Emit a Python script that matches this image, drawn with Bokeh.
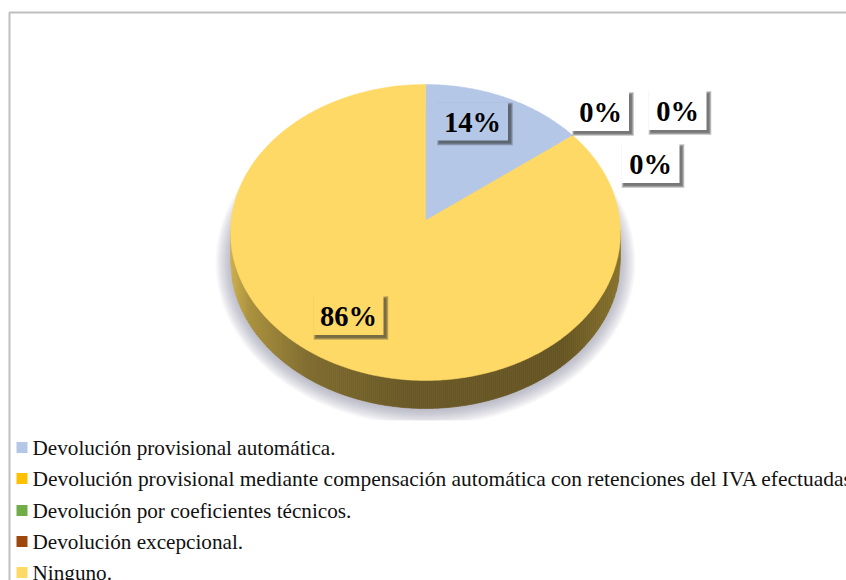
import numpy as np
from bokeh.core.properties import value
from bokeh.embed import file_html
from bokeh.models import Range1d
from bokeh.plotting import figure
from bokeh.resources import INLINE

# Survey answers, in percent
categories = [
    "Devolución provisional automática.",
    "Devolución provisional mediante compensación automática con retenciones del IVA efectuadas",
    "Devolución por coeficientes técnicos.",
    "Devolución excepcional.",
    "Ninguno.",
]
shares = [14, 0, 0, 0, 86]
labels = ["14%", "0%", "0%", "0%", "86%"]
colors = ["#b4c7e7", "#ffc000", "#70ad47", "#9e480e", "#ffd966"]

W, H = 846, 580
SERIF = "Liberation Serif"

# Tilted disc layout, in page pixels
CX, CY, RX, RY = 425.0, 232.0, 195.0, 148.0
APEX_Y = 220.0
DEPTH = 28.0

# Centres of the label boxes, in slice order, and each box's size
label_centres = [(472, 121), (600, 111), (650, 163), (677, 110), (348, 315)]
label_sizes = [(71, 38), (57, 39), (58, 39), (58, 39), (70, 39)]
label_fills = ["#b4c7e7", "#ffffff", "#ffffff", "#ffffff", "#ffd966"]

legend_rows = [447, 478, 510, 541, 572]
legend_font_px = [21.2, 21.45, 21.2, 21.2, 21.2]

p = figure(width=W, height=H, output_backend="svg", toolbar_location=None,
           x_range=Range1d(0, W), y_range=Range1d(H, 0),
           min_border=0, outline_line_color=None, background_fill_color="white",
           border_fill_color="white")
p.axis.visible = False
p.grid.visible = False


def rim_point(angle):
    """Where a slice boundary at `angle` (clockwise from 12 o'clock) meets the rim."""
    dx = RX * np.sin(angle)
    dy = -(APEX_Y - (CY - RY)) * np.cos(angle)
    off = APEX_Y - CY
    a = (dx / RX) ** 2 + (dy / RY) ** 2
    b = 2 * off * dy / RY ** 2
    c = (off / RY) ** 2 - 1
    s = (-b + np.sqrt(b * b - 4 * a * c)) / (2 * a)
    return CX + s * dx, APEX_Y + s * dy


# Soft ground shadow, cut off flat underneath
t = np.linspace(0, 2 * np.pi, 241)
for grow in np.linspace(15, 0, 16):
    sx = CX + (RX + grow) * np.cos(t)
    sy = CY + 30 + (RY + grow) * np.sin(t)
    p.patch(sx, np.minimum(sy, 420), fill_color="#8c8c9a", fill_alpha=0.045, line_color=None)

# Side wall of the disc, shaded column by column
stops_x = [0.0, 0.05, 0.2, 0.45, 0.85, 1.0]
stops_rgb = np.array([[205, 176, 78], [170, 145, 60], [128, 108, 46],
                      [106, 89, 38], [102, 85, 34], [135, 114, 44]], dtype=float)
edges = np.linspace(CX - RX, CX + RX, 196)
xs, ys, shades = [], [], []
for x0, x1 in zip(edges[:-1], edges[1:]):
    top0 = CY + RY * np.sqrt(max(0.0, 1 - ((x0 - CX) / RX) ** 2))
    top1 = CY + RY * np.sqrt(max(0.0, 1 - ((x1 - CX) / RX) ** 2))
    xs.append([x0, x1, x1, x0])
    ys.append([top0 - 2, top1 - 2, top1 + DEPTH, top0 + DEPTH])
    f = ((x0 + x1) / 2 - edges[0]) / (edges[-1] - edges[0])
    rgb = [int(np.interp(f, stops_x, stops_rgb[:, i])) for i in range(3)]
    shades.append("#%02x%02x%02x" % tuple(rgb))
p.patches(xs, ys, fill_color=shades, line_color=shades, line_width=0.6)

# Slices on the top face
start = 0.0
total = sum(shares)
for share, colour in zip(shares, colors):
    sweep = 2 * np.pi * share / total
    if share > 0:
        angles = np.linspace(start, start + sweep, max(3, int(share * 6)))
        rim = [rim_point(a) for a in angles]
        px = [CX] + [q[0] for q in rim]
        py = [APEX_Y] + [q[1] for q in rim]
        p.patch(px, py, fill_color=colour, line_color=colour, line_width=0.5)
    start += sweep

# Value labels: box with a soft drop shadow, then the text
for text, (lx, ly), (bw, bh), fill in zip(labels, label_centres, label_sizes, label_fills):
    for spread in (5, 4, 3, 2, 1, 0):
        p.rect(lx + 2.5, ly + 2.5, width=bw + spread, height=bh + spread,
               fill_color="#2f2f2f", fill_alpha=0.16, line_color=None)
    p.rect(lx, ly, width=bw, height=bh, fill_color=fill, line_color=None)
    p.text([lx], [ly + 1], text=[text], text_font=value(SERIF), text_font_style="bold",
           text_font_size="28.5px", text_color="black",
           text_align="center", text_baseline="middle")

# Legend
for row, name, colour, size in zip(legend_rows, categories, colors, legend_font_px):
    p.rect(21.5, row, width=11, height=11, fill_color=colour, line_color=None)
    p.text([32], [row], text=[name], text_font=value(SERIF), text_font_size=f"{size}px",
           text_color="#111111", text_align="left", text_baseline="middle")

# Chart frame: only its top and left edges fall inside the page
p.line([9, 9, W], [H, 12, 12], line_color="#bfbfbf", line_width=2)

open("out.html", "w").write(file_html(p, INLINE))
